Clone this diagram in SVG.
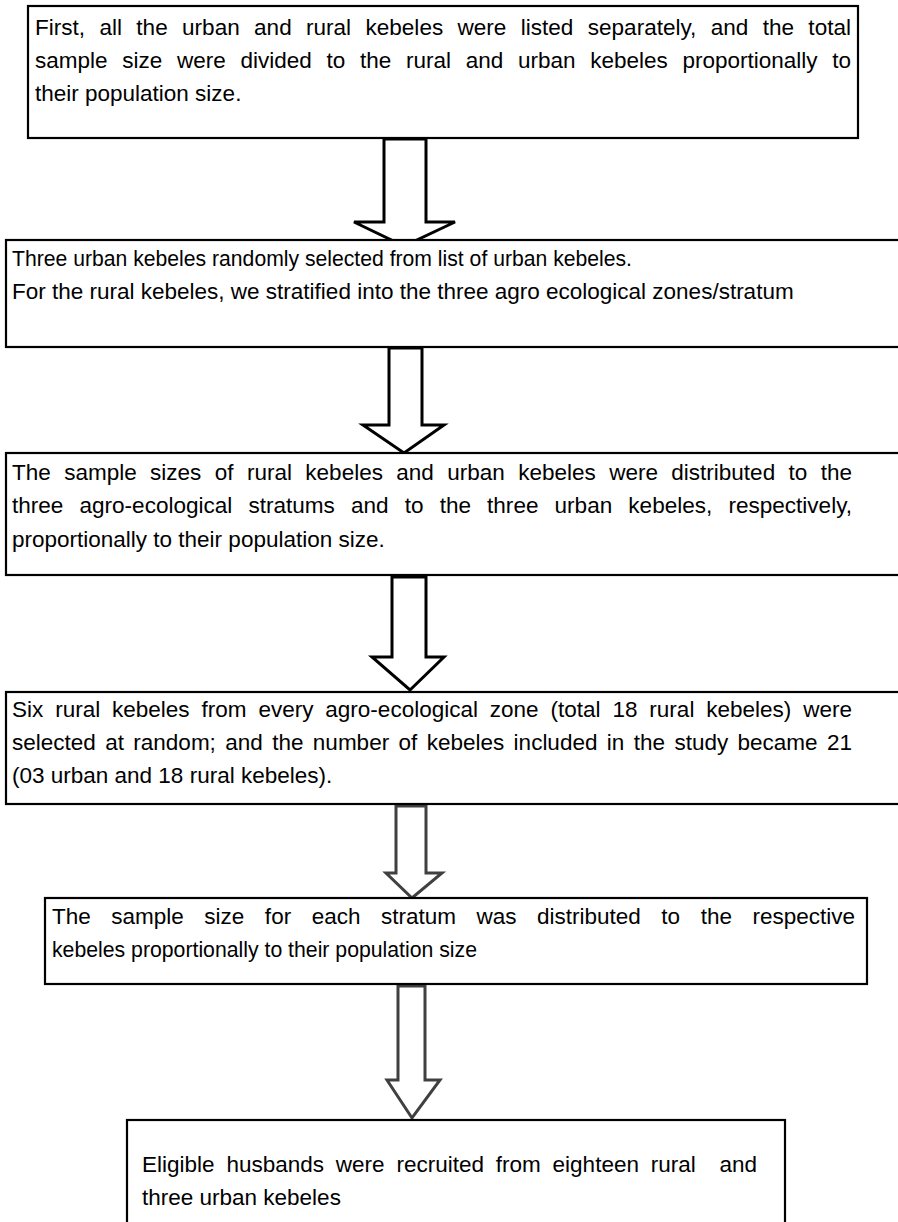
<svg xmlns="http://www.w3.org/2000/svg" width="898" height="1222" viewBox="0 0 898 1222">
<style>
.box{fill:#fff;stroke:#000;stroke-width:2.2}
.t{font-family:"Liberation Sans",Arial,sans-serif;font-size:22.5px;fill:#000}
.ar{fill:#fff;stroke:#000;stroke-width:3;stroke-linejoin:miter}
.ag{fill:#fff;stroke:#404040;stroke-width:3;stroke-linejoin:miter}
</style>
<rect x="0" y="0" width="898" height="1222" fill="#fff"/>
<g id="connectors">
<polygon class="ar" points="384,139 426,139 426,222 455,222 404,246 354,222 384,222"/>
<polygon class="ar" points="389,348 422,348 422,425 444,425 404,453 363,425 389,425"/>
<polygon class="ar" points="392,577 426,577 426,657 444,657 410,690 372,657 392,657"/>
<polygon class="ag" points="396,806 426,806 426,873 442,873 412,898 386,873 396,873"/>
<polygon class="ag" points="398,986 425,986 425,1080 440,1080 412,1118 387,1080 398,1080"/>
</g>
<g id="n1">
<rect class="box" x="28" y="6" width="830" height="132"/>
<text class="t" x="35" y="35" word-spacing="8.07" textLength="816" lengthAdjust="spacingAndGlyphs">First, all the urban and rural kebeles were listed separately, and the total</text>
<text class="t" x="35" y="68" word-spacing="8.46" textLength="816" lengthAdjust="spacingAndGlyphs">sample size were divided to the rural and urban kebeles proportionally to</text>
<text class="t" x="35" y="101">their population size.</text>
</g>
<g id="n2">
<rect class="box" x="6" y="240" width="900" height="107"/>
<text class="t" x="12" y="266" textLength="620" lengthAdjust="spacingAndGlyphs">Three urban kebeles randomly selected from list of urban kebeles.</text>
<text class="t" x="12" y="299">For the rural kebeles, we stratified into the three agro ecological zones/stratum</text>
</g>
<g id="n3">
<rect class="box" x="6" y="453" width="900" height="122"/>
<text class="t" x="12" y="480" word-spacing="7.15" textLength="840" lengthAdjust="spacingAndGlyphs">The sample sizes of rural kebeles and urban kebeles were distributed to the</text>
<text class="t" x="12" y="513" word-spacing="9.83" textLength="840" lengthAdjust="spacingAndGlyphs">three agro-ecological stratums and to the three urban kebeles, respectively,</text>
<text class="t" x="12" y="547">proportionally to their population size.</text>
</g>
<g id="n4">
<rect class="box" x="6" y="692" width="900" height="112"/>
<text class="t" x="12" y="717" word-spacing="5.65" textLength="840" lengthAdjust="spacingAndGlyphs">Six rural kebeles from every agro-ecological zone (total 18 rural kebeles) were</text>
<text class="t" x="12" y="750" word-spacing="3.14" textLength="840" lengthAdjust="spacingAndGlyphs">selected at random; and the number of kebeles included in the study became 21</text>
<text class="t" x="12" y="783">(03 urban and 18 rural kebeles).</text>
</g>
<g id="n5">
<rect class="box" x="45" y="898" width="822" height="86"/>
<text class="t" x="52" y="924" word-spacing="14.26" textLength="803" lengthAdjust="spacingAndGlyphs">The sample size for each stratum was distributed to the respective</text>
<text class="t" x="52" y="957" textLength="425" lengthAdjust="spacingAndGlyphs">kebeles proportionally to their population size</text>
</g>
<g id="n6">
<rect class="box" x="127" y="1120" width="658" height="120"/>
<text class="t" x="142" y="1172" xml:space="preserve" word-spacing="5.6" textLength="615" lengthAdjust="spacingAndGlyphs">Eligible husbands were recruited from eighteen rural  and</text>
<text class="t" x="142" y="1205">three urban kebeles</text>
</g>
</svg>
